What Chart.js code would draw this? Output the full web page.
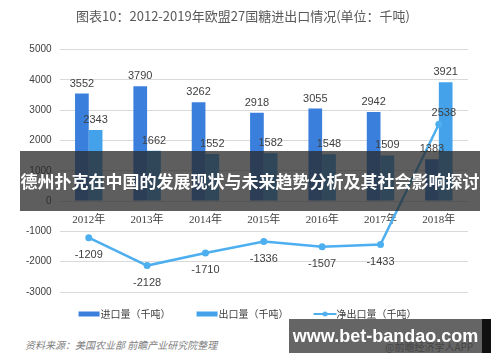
<!DOCTYPE html>
<html>
<head>
<meta charset="utf-8">
<script src="https://cdn.jsdelivr.net/npm/chart.js@4.4.0/dist/chart.umd.min.js"></script>
<style>
    body { margin: 0; background: #fff; }
    #wrap { position: relative; width: 500px; height: 362px; overflow: hidden; font-family: "Noto Sans CJK SC", "Noto Sans", sans-serif; }
    #box { position: absolute; left: 0; top: 0; width: 500px; height: 329px; }
    .source { position: absolute; left: 25px; top: 337px; font-size: 10px; font-style: italic; color: #7f7f7f; }
    .app { position: absolute; left: 385px; top: 339px; font-size: 10px; color: #7f7f7f; }
    .banner { position: absolute; left: 20px; top: 151px; width: 460px; height: 60px; background: rgba(40, 40, 40, 0.75); color: #fff; font-weight: bold; font-size: 17px; line-height: 60px; text-align: center; white-space: nowrap; }
    .site { position: absolute; left: 289px; top: 319px; width: 193px; height: 34px; background: rgba(50, 50, 50, 0.75); color: #fff; font-weight: bold; font-size: 18px; line-height: 34px; text-align: center; white-space: nowrap; font-family: "Liberation Sans", "DejaVu Sans", sans-serif; }
    .edge { position: absolute; left: 482px; top: 319px; width: 9px; height: 34px; background: #111; }
</style>
</head>
<body>
<div id="wrap">
    <div id="box"><canvas id="sugarChart"></canvas></div>
    <div class="source">资料来源：美国农业部 前瞻产业研究院整理</div>
    <div class="app">@前瞻经济学人APP</div>
    <div class="banner">德州扑克在中国的发展现状与未来趋势分析及其社会影响探讨</div>
    <div class="site">www.bet-bandao.com</div>
    <div class="edge"></div>
</div>
<script>
const years = ['2012年', '2013年', '2014年', '2015年', '2016年', '2017年', '2018年'];
const imports = [3552, 3790, 3262, 2918, 3055, 2942, 1383];
const exportsQty = [2343, 1662, 1552, 1582, 1548, 1509, 3921];
const netExports = [-1209, -2128, -1710, -1336, -1507, -1433, 2538];
const seriesNames = ['进口量（千吨）', '出口量（千吨）', '净出口量（千吨）'];
const yTicks = { min: -3000, max: 5000, step: 1000 };

const importColor = '#3b7fdd';
const exportColor = '#43a2ea';
const netColor = '#4dafef';

// legend markers: drawn wider than the legend box so they sit right next to the text
const makeMarker = (type, color) => {
    const c = document.createElement('canvas');
    c.width = 40; c.height = 8;
    const g = c.getContext('2d');
    g.fillStyle = color;
    g.strokeStyle = color;
    if (type === 'bar') {
        g.fillRect(16, 1.5, 21, 5);
    } else {
        g.lineWidth = 2;
        g.beginPath(); g.moveTo(15, 4); g.lineTo(38, 4); g.stroke();
        g.beginPath(); g.arc(26.5, 4, 2.5, 0, Math.PI * 2); g.fill();
    }
    return c;
};
const markers = [makeMarker('bar', importColor), makeMarker('bar', exportColor), makeMarker('line', netColor)];

const valueLabels = {
    id: 'valueLabels',
    afterDatasetsDraw(chart) {
        const { ctx } = chart;
        ctx.save();
        ctx.font = '11px "Liberation Sans", "Noto Sans", sans-serif';
        ctx.fillStyle = '#404040';
        ctx.textAlign = 'center';
        ctx.textBaseline = 'middle';
        chart.data.datasets.forEach((ds, i) => {
            chart.getDatasetMeta(i).data.forEach((el, j) => {
                const v = ds.data[j];
                if (ds.type === 'line') {
                    const dy = v < 0 ? 17 : -11;
                    ctx.fillText(v, el.x + (v < 0 ? 0 : 5), el.y + dy);
                } else {
                    ctx.fillText(v, el.x, el.y - 10);
                }
            });
        });
        ctx.restore();
    }
};

const ctx = document.getElementById('sugarChart').getContext('2d');
new Chart(ctx, {
    data: {
        labels: years,
        datasets: [
            {
                type: 'bar',
                label: seriesNames[0],
                data: imports,
                backgroundColor: importColor,
                categoryPercentage: 0.47,
                barPercentage: 1,
                order: 2
            },
            {
                type: 'bar',
                label: seriesNames[1],
                data: exportsQty,
                backgroundColor: exportColor,
                categoryPercentage: 0.47,
                barPercentage: 1,
                order: 2
            },
            {
                type: 'line',
                label: seriesNames[2],
                data: netExports,
                borderColor: netColor,
                backgroundColor: netColor,
                borderWidth: 2.5,
                pointRadius: 3.5,
                pointBackgroundColor: netColor,
                pointBorderWidth: 0,
                tension: 0,
                order: 1
            }
        ]
    },
    options: {
        responsive: true,
        maintainAspectRatio: false,
        animation: false,
        layout: { padding: { left: 18, right: 32, top: 0, bottom: 0 } },
        plugins: {
            title: {
                display: true,
                text: '图表10：2012-2019年欧盟27国糖进出口情况(单位：千吨)',
                color: '#595959',
                font: { size: 13, family: '"Noto Sans CJK SC", sans-serif', weight: 'normal' },
                padding: { top: 8, bottom: 26 }
            },
            legend: {
                position: 'bottom',
                labels: {
                    usePointStyle: true,
                    pointStyleWidth: 26,
                    boxHeight: 8,
                    padding: 17,
                    color: '#404040',
                    font: { size: 10, family: '"Noto Sans CJK SC", sans-serif' },
                    generateLabels: (chart) => chart.data.datasets.map((ds, i) => ({
                        text: ds.label,
                        pointStyle: markers[i],
                        fillStyle: ds.backgroundColor,
                        strokeStyle: ds.backgroundColor,
                        lineWidth: 0,
                        datasetIndex: i,
                        fontColor: '#404040'
                    }))
                }
            },
            tooltip: { enabled: false }
        },
        scales: {
            x: {
                position: { y: 0 },
                grid: { display: false },
                border: { display: false },
                ticks: {
                    color: '#404040',
                    padding: 4,
                    font: { size: 11, family: '"Liberation Serif", "Noto Sans CJK SC", serif' }
                }
            },
            y: {
                min: yTicks.min,
                max: yTicks.max,
                grid: { color: '#d9d9d9', drawTicks: false },
                border: { display: false },
                ticks: {
                    stepSize: yTicks.step,
                    padding: 8,
                    color: '#404040',
                    font: { size: 10, family: '"Liberation Sans", sans-serif' },
                    callback: (v) => String(v)
                }
            }
        }
    },
    plugins: [valueLabels]
});
</script>
</body>
</html>
